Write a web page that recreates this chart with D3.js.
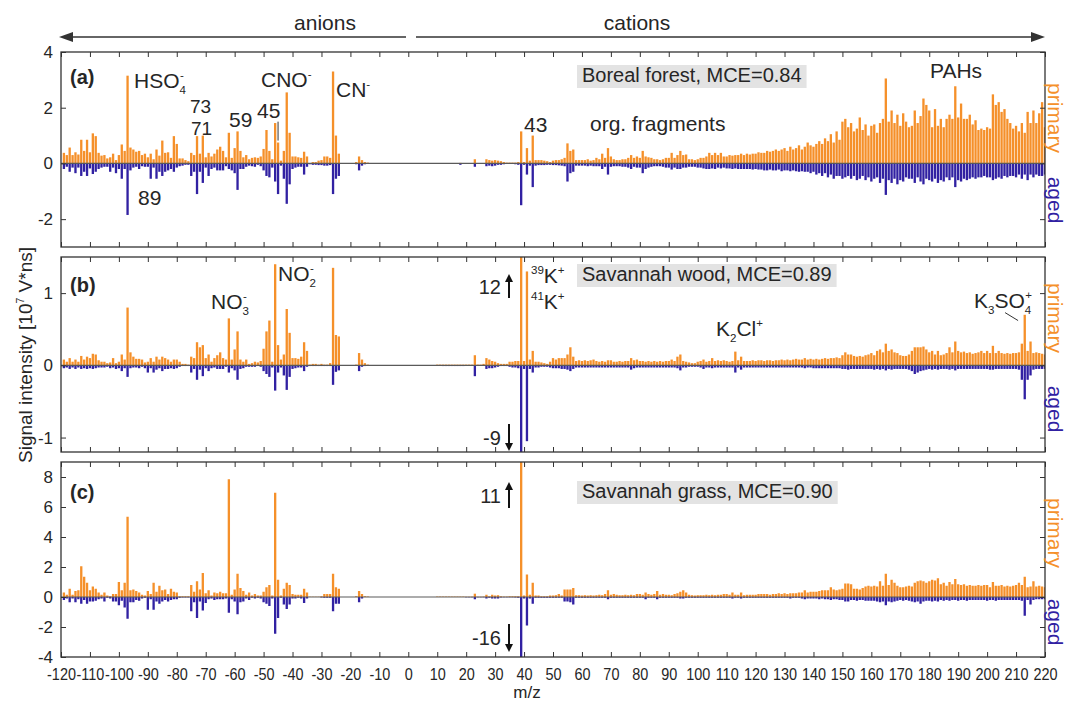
<!DOCTYPE html>
<meta charset="utf-8">
<html lang="en">
<head>
<title>Primary and aged spectra</title>
<script src="https://d3js.org/d3.v7.min.js"></script>
<style>
  html, body { margin: 0; padding: 0; background: #fff; }
  svg text { font-family: "Liberation Sans", Arial, Helvetica, sans-serif; fill: #262626; }
</style>
</head>
<body>
<div id="chart"></div>
<script>
// one bar per unit mass, m/z from -120 (anions) up to 220 (cations)
const mzStart = -120;
const mzEnd = 220;
const xTicks = d3.range(-120, 221, 10);

// (a) boreal forest, primary
const borealPrimary = [
  0, 0.38, 0.3, 0.57, 0.3, 0.4, 0.32, 0.85, 0.45, 0.85,      // -120
  0.4, 1.08, 0.98, 0.38, 0.28, 0.3, 0.18, 0.22, 0.35, 0.12,  // -110
  0.3, 0.68, 0.45, 3.15, 0.57, 0.5, 0.42, 0.45, 0.3, 0.35,   // -100
  0.22, 0.35, 0.15, 0.5, 0.28, 0.82, 0.38, 0.4, 0.2, 0.98,   // -90
  0.7, 0.18, 0.18, 0.12, 0.08, 0.38, 0.3, 0.98, 0.35, 1.0,   // -80
  0.22, 0.38, 0.25, 0.35, 0.5, 0.6, 0.45, 0.22, 1.1, 0.2,    // -70
  0.55, 1.15, 0.45, 0.22, 0.3, 0.15, 0.2, 0.22, 0.2, 0.25,   // -60
  0.52, 1.2, 0.45, 0.15, 1.45, 0.75, 0.1, 0.45, 2.55, 1.1,   // -50
  0.25, 0.25, 0.22, 0.2, 0.42, 0.25, 0, 0.05, 0.05, 0.1,     // -40
  0.12, 0.25, 0.25, 0.2, 3.3, 1.0, 0.35, 0, 0, 0,            // -30
  0, 0, 0.05, 0.25, 0.12, 0.05, 0.03, 0, 0, 0,               // -20
  0, 0, 0, 0, 0, 0, 0, 0, 0, 0,                              // -10
  0, 0, 0, 0, 0, 0, 0, 0, 0, 0,                              // 0
  0, 0, 0, 0, 0, 0, 0, 0, 0.02, 0,                           // 10
  0, 0, 0, 0.15, 0, 0, 0, 0.15, 0.12, 0.1,                   // 20
  0.12, 0.1, 0.08, 0.05, 0.03, 0.03, 0.03, 0.03, 0.05, 1.15, // 30
  0.05, 0.55, 0.1, 1.0, 0.12, 0.12, 0.12, 0.1, 0.08, 0.05,   // 40
  0.1, 0.12, 0.12, 0.15, 0.2, 0.72, 0.45, 0.5, 0.12, 0.12,   // 50
  0.12, 0.12, 0.15, 0.1, 0.12, 0.2, 0.15, 0.35, 0.2, 0.55,   // 60
  0.25, 0.15, 0.12, 0.12, 0.15, 0.15, 0.2, 0.3, 0.2, 0.25,   // 70
  0.2, 0.45, 0.25, 0.22, 0.2, 0.15, 0.15, 0.12, 0.15, 0.2,   // 80
  0.2, 0.38, 0.2, 0.3, 0.45, 0.3, 0.32, 0.15, 0.15, 0.12,    // 90
  0.15, 0.2, 0.2, 0.25, 0.38, 0.3, 0.38, 0.3, 0.38, 0.25,    // 100
  0.25, 0.3, 0.28, 0.3, 0.3, 0.35, 0.3, 0.35, 0.32, 0.35,    // 110
  0.35, 0.4, 0.38, 0.38, 0.45, 0.42, 0.45, 0.5, 0.45, 0.5,   // 120
  0.55, 0.45, 0.6, 0.5, 0.55, 0.65, 0.5, 0.6, 0.75, 0.65,    // 130
  0.6, 0.7, 0.8, 0.7, 0.9, 0.8, 1.05, 0.75, 1.15, 0.85,      // 140
  1.5, 1.6, 1.3, 1.45, 1.15, 1.25, 1.65, 1.2, 1.4, 1.0,      // 150
  1.35, 1.4, 1.1, 1.45, 1.6, 3.05, 1.5, 1.9, 1.45, 1.75,     // 160
  1.35, 1.8, 1.5, 1.3, 1.35, 1.9, 1.45, 1.7, 2.33, 2.1,      // 170
  1.9, 1.3, 1.95, 1.35, 1.6, 1.3, 1.6, 1.75, 1.6, 2.77,      // 180
  1.65, 2.15, 1.6, 1.6, 1.75, 1.4, 1.55, 1.2, 1.25, 1.2,     // 190
  1.3, 1.25, 2.48, 2.1, 2.2, 1.85, 1.95, 1.6, 1.45, 1.25,    // 200
  1.35, 1.15, 1.45, 1.1, 1.85, 1.45, 1.9, 1.45, 1.8, 2.2,    // 210
  1.3                                                         // 220
];

// (a) boreal forest, aged
const borealAged = [
  0, -0.2, -0.12, -0.3, -0.15, -0.35, -0.15, -0.45, -0.3, -0.45,
  -0.18, -0.38, -0.3, -0.2, -0.15, -0.12, -0.12, -0.3, -0.15, -0.35,
  -0.2, -0.55, -0.2, -1.85, -0.25, -0.15, -0.12, -0.2, -0.1, -0.12,
  -0.12, -0.55, -0.15, -0.55, -0.3, -0.45, -0.3, -0.25, -0.2, -0.3,
  -0.15, -0.1, -0.08, -0.05, -0.05, -0.45, -0.3, -1.1, -0.3, -0.7,
  -0.15, -0.45, -0.2, -0.15, -0.25, -0.25, -0.25, -0.1, -0.2, -0.25,
  -0.35, -0.95, -0.2, -0.2, -0.12, -0.08, -0.1, -0.12, -0.05, -0.1,
  -0.25, -0.45, -0.5, -0.15, -0.65, -1.1, -0.08, -0.55, -1.45, -0.75,
  -0.2, -0.15, -0.12, -0.12, -0.4, -0.12, -0.03, -0.05, -0.05, -0.06,
  -0.06, -0.08, -0.08, -0.06, -1.1, -0.55, -0.45, 0, 0, 0,
  0, 0, -0.03, -0.25, -0.08, -0.03, 0, 0, 0, 0,
  0, 0, 0, 0, 0, 0, 0, 0, 0, 0,
  0, 0, 0, 0, 0, 0, 0, 0, 0, 0,
  0, 0, 0, 0, 0, 0, 0, 0, -0.05, 0,
  0, 0, 0, -0.12, 0, 0, 0, -0.1, -0.08, -0.1,
  -0.08, -0.05, -0.05, -0.03, -0.02, -0.02, -0.02, -0.03, -0.05, -1.5,
  -0.05, -0.4, -0.08, -0.85, -0.08, -0.06, -0.06, -0.06, -0.05, -0.05,
  -0.06, -0.06, -0.07, -0.08, -0.1, -0.65, -0.35, -0.3, -0.08, -0.08,
  -0.08, -0.08, -0.1, -0.08, -0.1, -0.1, -0.1, -0.2, -0.12, -0.4,
  -0.12, -0.1, -0.1, -0.1, -0.12, -0.12, -0.15, -0.2, -0.12, -0.15,
  -0.15, -0.35, -0.2, -0.15, -0.12, -0.1, -0.1, -0.1, -0.12, -0.15,
  -0.15, -0.22, -0.15, -0.2, -0.2, -0.15, -0.15, -0.12, -0.12, -0.12,
  -0.15, -0.15, -0.18, -0.2, -0.2, -0.18, -0.2, -0.15, -0.18, -0.15,
  -0.18, -0.18, -0.2, -0.18, -0.2, -0.2, -0.2, -0.2, -0.2, -0.22,
  -0.2, -0.22, -0.22, -0.25, -0.25, -0.22, -0.25, -0.25, -0.22, -0.28,
  -0.25, -0.25, -0.28, -0.25, -0.28, -0.3, -0.28, -0.3, -0.3, -0.35,
  -0.3, -0.4, -0.35, -0.45, -0.35, -0.5, -0.4, -0.55, -0.45, -0.45,
  -0.55, -0.5, -0.45, -0.55, -0.45, -0.6, -0.55, -0.45, -0.6, -0.5,
  -0.65, -0.55, -0.5, -0.7, -0.55, -1.13, -0.6, -0.7, -0.55, -0.75,
  -0.6, -0.65, -0.5, -0.55, -0.55, -0.7, -0.5, -0.65, -0.75, -0.55,
  -0.6, -0.65, -0.55, -0.7, -0.6, -0.65, -0.5, -0.6, -0.5, -0.85,
  -0.6, -0.65, -0.55, -0.6, -0.55, -0.5, -0.55, -0.5, -0.5, -0.45,
  -0.5, -0.5, -0.6, -0.55, -0.5, -0.55, -0.45, -0.5, -0.45, -0.45,
  -0.5, -0.4, -0.55, -0.4, -0.6, -0.4, -0.5, -0.4, -0.45, -0.45,
  -0.4
];

// (b) savannah wood, primary (39K+ goes off scale at 12)
const woodPrimary = [
  0, 0.08, 0.05, 0.1, 0.05, 0.08, 0.05, 0.13, 0.08, 0.12,
  0.1, 0.16, 0.15, 0.07, 0.05, 0.05, 0.03, 0.04, 0.1, 0.03,
  0.05, 0.15, 0.08, 0.8, 0.18, 0.12, 0.09, 0.09, 0.08, 0.04,
  0.05, 0.1, 0.05, 0.12, 0.08, 0.12, 0.1, 0.08, 0.05, 0.08,
  0.08, 0.05, 0.02, 0.02, 0.01, 0.12, 0.1, 0.32, 0.25, 0.28,
  0.1, 0.15, 0.05, 0.1, 0.14, 0.18, 0.1, 0.08, 0.65, 0.08,
  0.22, 0.47, 0.08, 0.05, 0.08, 0.02, 0.03, 0.05, 0.04, 0.06,
  0.23, 0.47, 0.62, 0.05, 1.4, 0.28, 0.08, 0.15, 0.78, 0.45,
  0.1, 0.1, 0.09, 0.12, 0.32, 0.2, 0.01, 0.02, 0.02, 0.01,
  0.02, 0.01, 0.01, 0.03, 1.35, 0.42, 0.4, 0, 0, 0,
  0, 0, 0.01, 0.17, 0.08, 0.03, 0.01, 0, 0, 0,
  0, 0, 0, 0, 0, 0, 0, 0, 0, 0,
  0, 0, 0, 0, 0, 0, 0, 0, 0, 0,
  0.01, 0.01, 0.01, 0.01, 0.01, 0.01, 0.01, 0.01, 0.01, 0.01,
  0.01, 0.01, 0.01, 0.14, 0.01, 0.01, 0.02, 0.1, 0.08, 0.06,
  0.05, 0.03, 0.02, 0.02, 0.02, 0.05, 0.05, 0.06, 0.06, 12,
  0.06, 1.3, 0.08, 0.2, 0.05, 0.05, 0.04, 0.03, 0.02, 0.05,
  0.1, 0.08, 0.1, 0.1, 0.1, 0.15, 0.25, 0.12, 0.06, 0.07,
  0.06, 0.07, 0.06, 0.07, 0.08, 0.06, 0.05, 0.06, 0.05, 0.07,
  0.07, 0.05, 0.05, 0.06, 0.05, 0.06, 0.06, 0.1, 0.07, 0.08,
  0.06, 0.06, 0.05, 0.06, 0.05, 0.06, 0.05, 0.06, 0.05, 0.06,
  0.06, 0.08, 0.06, 0.12, 0.15, 0.06, 0.05, 0.04, 0.03, 0.03,
  0.05, 0.06, 0.08, 0.05, 0.06, 0.1, 0.06, 0.07, 0.06, 0.07,
  0.06, 0.05, 0.06, 0.19, 0.07, 0.12, 0.06, 0.06, 0.06, 0.07,
  0.06, 0.07, 0.07, 0.06, 0.07, 0.07, 0.06, 0.07, 0.07, 0.08,
  0.07, 0.08, 0.07, 0.08, 0.09, 0.08, 0.08, 0.1, 0.08, 0.09,
  0.08, 0.09, 0.08, 0.09, 0.1, 0.09, 0.1, 0.1, 0.11, 0.1,
  0.14, 0.18, 0.15, 0.15, 0.13, 0.12, 0.13, 0.12, 0.14, 0.15,
  0.17, 0.14, 0.2, 0.22, 0.18, 0.3, 0.2, 0.22, 0.18, 0.17,
  0.14, 0.13, 0.13, 0.15, 0.2, 0.25, 0.25, 0.25, 0.26, 0.22,
  0.18, 0.2, 0.15, 0.2, 0.14, 0.15, 0.17, 0.25, 0.18, 0.33,
  0.2, 0.18, 0.19, 0.17, 0.18, 0.16, 0.17, 0.18, 0.2, 0.17,
  0.2, 0.17, 0.27, 0.17, 0.2, 0.17, 0.16, 0.17, 0.16, 0.17,
  0.17, 0.18, 0.3, 0.7, 0.2, 0.33, 0.17, 0.18, 0.17, 0.16,
  0.15
];

// (b) savannah wood, aged (39K+ goes off scale at -9)
const woodAged = [
  0, -0.04, -0.03, -0.05, -0.03, -0.05, -0.03, -0.05, -0.04, -0.05,
  -0.04, -0.05, -0.04, -0.03, -0.03, -0.03, -0.02, -0.04, -0.03, -0.05,
  -0.04, -0.08, -0.04, -0.16, -0.04, -0.03, -0.03, -0.04, -0.02, -0.04,
  -0.1, -0.04, -0.1, -0.06, -0.04, -0.08, -0.05, -0.05, -0.04, -0.05,
  -0.04, -0.02, -0.01, -0.01, -0.01, -0.1, -0.05, -0.2, -0.06, -0.15,
  -0.04, -0.08, -0.04, -0.03, -0.05, -0.05, -0.05, -0.02, -0.1, -0.04,
  -0.07, -0.2, -0.05, -0.04, -0.02, -0.02, -0.02, -0.02, -0.01, -0.02,
  -0.08, -0.12, -0.16, -0.03, -0.35, -0.1, -0.03, -0.14, -0.34, -0.16,
  -0.05, -0.04, -0.03, -0.03, -0.08, -0.02, -0.01, -0.01, -0.01, -0.01,
  -0.01, -0.01, -0.01, -0.01, -0.27, -0.09, -0.07, 0, 0, 0,
  0, 0, 0, -0.08, -0.02, -0.01, 0, 0, 0, 0,
  0, 0, 0, 0, 0, 0, 0, 0, 0, 0,
  0, 0, 0, 0, 0, 0, 0, 0, 0, 0,
  0, 0, -0.01, -0.01, -0.01, -0.01, -0.01, -0.01, -0.01, -0.01,
  0, 0, 0, -0.15, 0, 0, 0, -0.05, -0.04, -0.04,
  -0.03, -0.02, -0.01, -0.01, -0.01, -0.02, -0.03, -0.03, -0.04, -9,
  -0.05, -1.05, -0.05, -0.1, -0.03, -0.03, -0.02, -0.02, -0.02, -0.03,
  -0.04, -0.04, -0.04, -0.05, -0.05, -0.06, -0.08, -0.05, -0.03, -0.03,
  -0.03, -0.03, -0.03, -0.03, -0.03, -0.03, -0.03, -0.03, -0.03, -0.03,
  -0.03, -0.03, -0.03, -0.03, -0.03, -0.03, -0.03, -0.06, -0.04, -0.03,
  -0.03, -0.03, -0.03, -0.03, -0.03, -0.03, -0.03, -0.03, -0.03, -0.03,
  -0.03, -0.03, -0.03, -0.04, -0.07, -0.03, -0.03, -0.02, -0.02, -0.02,
  -0.02, -0.03, -0.05, -0.03, -0.03, -0.04, -0.03, -0.03, -0.03, -0.03,
  -0.03, -0.03, -0.03, -0.1, -0.03, -0.06, -0.03, -0.03, -0.03, -0.03,
  -0.03, -0.03, -0.03, -0.03, -0.03, -0.03, -0.03, -0.03, -0.03, -0.03,
  -0.03, -0.03, -0.03, -0.03, -0.03, -0.03, -0.03, -0.04, -0.03, -0.03,
  -0.04, -0.04, -0.04, -0.04, -0.04, -0.04, -0.04, -0.04, -0.04, -0.04,
  -0.05, -0.05, -0.06, -0.05, -0.05, -0.05, -0.05, -0.05, -0.05, -0.05,
  -0.05, -0.06, -0.05, -0.06, -0.05, -0.07, -0.05, -0.06, -0.05, -0.05,
  -0.05, -0.05, -0.05, -0.06, -0.08, -0.12, -0.1, -0.08, -0.07, -0.06,
  -0.05, -0.06, -0.05, -0.06, -0.05, -0.05, -0.05, -0.06, -0.05, -0.07,
  -0.05, -0.05, -0.05, -0.05, -0.05, -0.05, -0.05, -0.05, -0.05, -0.05,
  -0.05, -0.06, -0.06, -0.05, -0.05, -0.05, -0.05, -0.05, -0.05, -0.05,
  -0.05, -0.06, -0.2, -0.47, -0.2, -0.14, -0.06, -0.05, -0.05, -0.05,
  -0.05
];

// (c) savannah grass, primary (39K+ goes off scale at 11)
const grassPrimary = [
  0, 0.3, 0.15, 0.55, 0.15, 0.4, 0.45, 2.05, 1.35, 0.95,
  0.45, 0.7, 0.55, 0.3, 0.15, 0.3, 0.1, 0.05, 0.2, 0.2,
  1.0, 0.45, 0.95, 5.35, 0.45, 0.5, 0.4, 0.3, 0.15, 0.1,
  0.4, 0.2, 0.95, 0.35, 0.75, 0.45, 0.5, 0.2, 0.55, 0.35,
  0.3, 0.05, 0.05, 0.05, 0.05, 0.8, 0.35, 1.05, 0.5, 1.6,
  0.25, 0.45, 0.1, 0.3, 0.25, 0.35, 0.25, 0.25, 7.85, 0.15,
  0.5, 1.55, 0.6, 0.4, 0.15, 0.3, 0.1, 0.2, 0.1, 0.1,
  0.35, 0.65, 0.8, 0.1, 6.95, 1.15, 0.1, 0.55, 0.95, 0.8,
  0.2, 0.15, 0.15, 0.15, 0.55, 0.3, 0.02, 0.02, 0.02, 0.02,
  0.05, 0.2, 0.2, 0.2, 1.55, 0.65, 0.55, 0, 0, 0,
  0, 0, 0.05, 0.4, 0.2, 0.05, 0.03, 0, 0, 0,
  0, 0, 0, 0, 0, 0, 0, 0, 0, 0,
  0, 0, 0, 0, 0, 0, 0, 0, 0, 0,
  0.03, 0.03, 0.03, 0.03, 0.03, 0.03, 0.03, 0.03, 0.03, 0.03,
  0.02, 0.02, 0.02, 0.22, 0.02, 0.02, 0.03, 0.15, 0.05, 0.15,
  0.1, 0.12, 0.05, 0.03, 0.03, 0.05, 0.05, 0.05, 0.05, 11,
  0.1, 1.5, 0.15, 0.95, 0.1, 0.1, 0.05, 0.05, 0.05, 0.1,
  0.1, 0.12, 0.2, 0.1, 0.5, 0.5, 0.5, 0.6, 0.12, 0.12,
  0.1, 0.12, 0.1, 0.12, 0.1, 0.12, 0.15, 0.12, 0.2, 0.45,
  0.15, 0.2, 0.15, 0.12, 0.12, 0.15, 0.12, 0.15, 0.12, 0.2,
  0.2, 0.15, 0.3, 0.2, 0.15, 0.2, 0.4, 0.15, 0.2, 0.15,
  0.15, 0.12, 0.2, 0.25, 0.35, 0.45, 0.3, 0.15, 0.12, 0.1,
  0.12, 0.12, 0.12, 0.15, 0.12, 0.15, 0.12, 0.15, 0.15, 0.2,
  0.2, 0.15, 0.3, 0.15, 0.15, 0.3, 0.12, 0.15, 0.15, 0.15,
  0.15, 0.2, 0.2, 0.2, 0.2, 0.15, 0.2, 0.2, 0.25, 0.2,
  0.25, 0.2, 0.25, 0.25, 0.25, 0.3, 0.3, 0.45, 0.3, 0.35,
  0.35, 0.35, 0.4, 0.45, 0.45, 0.45, 0.65, 0.5, 0.45, 0.5,
  0.55, 0.9, 0.9, 0.85, 0.55, 0.55, 0.5, 0.6, 0.7, 0.75,
  0.7, 0.75, 0.7, 1.05, 0.75, 1.55, 0.8, 1.15, 0.95, 0.75,
  0.65, 0.65, 0.7, 0.75, 0.7, 0.95, 1.05, 1.1, 1.05, 0.95,
  1.05, 1.15, 1.1, 1.25, 0.85, 0.95, 0.75, 1.0, 0.85, 1.2,
  0.85, 0.8, 0.85, 0.75, 0.8, 0.75, 0.75, 0.8, 0.75, 0.8,
  0.8, 0.65, 1.0, 0.75, 0.75, 0.8, 0.7, 0.75, 0.7, 0.75,
  0.8, 0.95, 0.8, 1.35, 0.65, 0.7, 1.05, 0.7, 0.75, 0.7,
  0.65
];

// (c) savannah grass, aged (39K+ goes off scale at -16)
const grassAged = [
  0, -0.2, -0.1, -0.35, -0.1, -0.35, -0.15, -0.45, -0.2, -0.45,
  -0.3, -0.3, -0.25, -0.15, -0.1, -0.3, -0.05, -0.1, -0.3, -0.3,
  -0.55, -0.25, -0.7, -1.45, -0.35, -0.35, -0.2, -0.25, -0.1, -0.05,
  -0.85, -0.15, -0.85, -0.3, -0.45, -0.3, -0.2, -0.3, -0.2, -0.15,
  -0.15, -0.05, -0.03, -0.03, -0.03, -0.95, -0.35, -1.4, -0.3, -0.9,
  -0.4, -0.15, -0.1, -0.2, -0.15, -0.15, -0.15, -0.1, -1.05, -0.15,
  -0.3, -1.15, -0.35, -0.3, -0.1, -0.2, -0.05, -0.1, -0.05, -0.1,
  -0.35, -0.45, -0.6, -0.1, -2.45, -1.4, -0.05, -0.5, -0.8, -0.5,
  -0.1, -0.1, -0.05, -0.1, -0.4, -0.1, 0, 0, 0, 0,
  -0.03, -0.05, -0.05, -0.05, -0.95, -0.45, -0.45, 0, 0, 0,
  0, 0, 0, -0.35, -0.1, 0, 0, 0, 0, 0,
  0, 0, 0, 0, 0, 0, 0, 0, 0, 0,
  0, 0, 0, 0, 0, 0, 0, 0, 0, 0,
  0, 0, 0, 0, 0, 0, 0, 0, 0, 0,
  -0.02, -0.02, -0.02, -0.15, -0.02, -0.02, -0.02, -0.1, -0.05, -0.1,
  -0.1, -0.1, -0.03, -0.02, -0.02, -0.02, -0.02, -0.03, -0.05, -16,
  -0.1, -1.9, -0.1, -0.45, -0.05, -0.05, -0.05, -0.05, -0.05, -0.05,
  -0.05, -0.05, -0.05, -0.05, -0.3, -0.3, -0.35, -0.5, -0.05, -0.05,
  -0.05, -0.05, -0.05, -0.05, -0.05, -0.05, -0.05, -0.05, -0.05, -0.15,
  -0.05, -0.05, -0.05, -0.05, -0.05, -0.05, -0.05, -0.05, -0.05, -0.05,
  -0.05, -0.05, -0.15, -0.05, -0.05, -0.05, -0.15, -0.05, -0.05, -0.05,
  -0.05, -0.05, -0.05, -0.05, -0.1, -0.1, -0.05, -0.05, -0.05, -0.05,
  -0.05, -0.05, -0.05, -0.05, -0.05, -0.05, -0.05, -0.05, -0.05, -0.05,
  -0.05, -0.05, -0.1, -0.05, -0.05, -0.1, -0.05, -0.05, -0.05, -0.05,
  -0.05, -0.05, -0.05, -0.05, -0.05, -0.05, -0.05, -0.05, -0.05, -0.05,
  -0.05, -0.05, -0.1, -0.05, -0.05, -0.05, -0.1, -0.15, -0.1, -0.1,
  -0.1, -0.1, -0.15, -0.1, -0.15, -0.15, -0.2, -0.15, -0.15, -0.2,
  -0.2, -0.3, -0.3, -0.2, -0.2, -0.25, -0.2, -0.2, -0.25, -0.25,
  -0.25, -0.25, -0.3, -0.35, -0.3, -0.55, -0.3, -0.35, -0.3, -0.25,
  -0.2, -0.25, -0.2, -0.25, -0.3, -0.35, -0.3, -0.45, -0.3, -0.25,
  -0.25, -0.3, -0.25, -0.3, -0.2, -0.25, -0.2, -0.25, -0.2, -0.2,
  -0.25, -0.2, -0.2, -0.25, -0.2, -0.2, -0.2, -0.2, -0.2, -0.2,
  -0.25, -0.2, -0.2, -0.25, -0.2, -0.2, -0.2, -0.2, -0.2, -0.2,
  -0.2, -0.2, -0.25, -1.25, -0.2, -0.5, -0.2, -0.15, -0.15, -0.15,
  -0.15
];

const ORANGE = "#F5902A";
const BLUE = "#3121A2";
const INK = "#262626";

const width = 1068, height = 703;
const plotLeft = 61, plotRight = 1045;

const svg = d3.select("#chart").append("svg")
    .attr("width", width)
    .attr("height", height);

const x = d3.scaleLinear().domain([mzStart, mzEnd]).range([plotLeft, plotRight]);
const barW = (x(1) - x(0)) * 0.8;
const mzList = d3.range(mzStart, mzEnd + 1);

const panels = [
  { top: 52, bottom: 247, domain: [-3, 4], ticks: [-2, 0, 2, 4], primary: borealPrimary, aged: borealAged,
    primaryMid: 118, agedMid: 200 },
  { top: 257, bottom: 452, domain: [-1.2, 1.5], ticks: [-1, 0, 1], primary: woodPrimary, aged: woodAged,
    primaryMid: 318, agedMid: 409 },
  { top: 462, bottom: 657, domain: [-4, 9], ticks: [-4, -2, 0, 2, 4, 6, 8], primary: grassPrimary, aged: grassAged,
    primaryMid: 533, agedMid: 622 }
];

// text with sub/superscripts: parts = [[string, "sub"|"sup"|"", dx]]
function richText(g, px, py, parts, size, opts) {
  opts = opts || {};
  const t = g.append("text").attr("x", px).attr("y", py)
      .attr("font-size", size)
      .attr("text-anchor", opts.anchor || "start")
      .attr("font-weight", opts.bold ? "bold" : null);
  let shift = 0;
  parts.forEach(function(p) {
    const kind = p[1] || "";
    const target = kind === "sub" ? size * 0.28 : kind === "sup" ? -size * 0.42 : 0;
    const s = t.append("tspan").text(p[0]).attr("dy", target - shift);
    if (kind) s.attr("font-size", size * 0.55);
    if (p[2]) s.attr("dx", p[2]);
    shift = target;
  });
  return t;
}

function labelBox(g, px, py, str) {
  const box = g.append("rect").attr("fill", "#E3E3E3");
  const t = g.append("text").attr("x", px).attr("y", py).attr("font-size", 20).text(str);
  const bb = t.node().getBBox();
  box.attr("x", bb.x - 5).attr("y", bb.y + 1).attr("width", bb.width + 10).attr("height", bb.height + 1);
}

function vArrow(g, px, y1, y2) {
  const dir = y2 < y1 ? -1 : 1;
  g.append("line").attr("x1", px).attr("x2", px).attr("y1", y1).attr("y2", y2 - dir * 6)
      .attr("stroke", "#111").attr("stroke-width", 2);
  g.append("path")
      .attr("d", `M${px},${y2} L${px - 4},${y2 - dir * 8} L${px + 4},${y2 - dir * 8} Z`)
      .attr("fill", "#111");
}

panels.forEach(function(p, i) {
  const y = d3.scaleLinear().domain(p.domain).range([p.bottom, p.top]);
  p.y = y;
  const g = svg.append("g");

  svg.append("clipPath").attr("id", "clip" + i)
    .append("rect")
      .attr("x", plotLeft).attr("y", p.top)
      .attr("width", plotRight - plotLeft).attr("height", p.bottom - p.top);

  const bars = g.append("g").attr("clip-path", `url(#clip${i})`);

  [[p.primary, ORANGE], [p.aged, BLUE]].forEach(function(s) {
    const rows = mzList.map((m, k) => ({ m: m, v: s[0][k] })).filter(d => d.v);
    bars.append("g").selectAll("rect")
      .data(rows)
      .join("rect")
        .attr("x", d => x(d.m) - barW / 2)
        .attr("width", barW)
        .attr("y", d => Math.min(y(d.v), y(0)))
        .attr("height", d => Math.abs(y(d.v) - y(0)))
        .attr("fill", s[1]);
  });

  // zero line
  g.append("line")
      .attr("x1", plotLeft).attr("x2", plotRight)
      .attr("y1", y(0)).attr("y2", y(0))
      .attr("stroke", "#5a5a5a").attr("stroke-width", 1.2);

  const styleAxis = a => {
    a.select(".domain").remove();
    a.selectAll(".tick line").attr("stroke", "#333").attr("stroke-width", 1);
    a.selectAll(".tick text").attr("fill", INK).attr("font-size", 17)
      .attr("font-family", '"Liberation Sans", Arial, sans-serif');
  };

  g.append("g").attr("transform", `translate(0,${p.bottom})`)
    .call(d3.axisBottom(x).tickValues(xTicks).tickSizeInner(-5).tickSizeOuter(0).tickPadding(11)
      .tickFormat(i === 2 ? d => String(d) : ""))
    .call(styleAxis)
    .call(a => a.selectAll(".tick text").attr("transform", "scale(0.85,1)"));

  g.append("g").attr("transform", `translate(0,${p.top})`)
    .call(d3.axisTop(x).tickValues(xTicks).tickSizeInner(-5).tickSizeOuter(0).tickFormat(""))
    .call(styleAxis);

  g.append("g").attr("transform", `translate(${plotLeft},0)`)
    .call(d3.axisLeft(y).tickValues(p.ticks).tickSizeInner(-5).tickSizeOuter(0).tickPadding(8)
      .tickFormat(d => String(d)))
    .call(styleAxis);

  g.append("g").attr("transform", `translate(${plotRight},0)`)
    .call(d3.axisRight(y).tickValues(p.ticks).tickSizeInner(-5).tickSizeOuter(0).tickFormat(""))
    .call(styleAxis);

  g.append("rect")
      .attr("x", plotLeft).attr("y", p.top)
      .attr("width", plotRight - plotLeft).attr("height", p.bottom - p.top)
      .attr("fill", "none").attr("stroke", "#333").attr("stroke-width", 1.3);

  // right side labels
  g.append("text")
      .attr("transform", `translate(1048,${p.primaryMid}) rotate(90)`)
      .attr("text-anchor", "middle").attr("font-size", 21)
      .style("fill", ORANGE).text("primary");
  g.append("text")
      .attr("transform", `translate(1048,${p.agedMid}) rotate(90)`)
      .attr("text-anchor", "middle").attr("font-size", 21)
      .style("fill", BLUE).text("aged");
});

const ya = panels[0].y, yb = panels[1].y, yc = panels[2].y;
const ann = svg.append("g");

// panel (a)
richText(ann, 70, 84, [["(a)"]], 20, { bold: true });
richText(ann, 134, 88, [["HSO"], ["4", "sub"], ["-", "sup", -6]], 21);
richText(ann, 190, 113, [["73"]], 19);
richText(ann, 191, 135, [["71"]], 19);
richText(ann, 229, 127, [["59"]], 21);
richText(ann, 257, 118, [["45"]], 21);
ann.append("line").attr("x1", x(-45)).attr("x2", x(-45)).attr("y1", ya(1.5)).attr("y2", ya(0.82))
    .attr("stroke", "#333").attr("stroke-width", 1);
richText(ann, 261, 87, [["CNO"], ["-", "sup"]], 21);
richText(ann, 336, 97, [["CN"], ["-", "sup"]], 21);
richText(ann, 138, 205, [["89"]], 21);
richText(ann, 524, 132, [["43"]], 21);
richText(ann, 590, 131, [["org. fragments"]], 21);
labelBox(ann, 582, 82, "Boreal forest, MCE=0.84");
richText(ann, 930, 78, [["PAHs"]], 21);

// panel (b)
richText(ann, 70, 292, [["(b)"]], 20, { bold: true });
richText(ann, 211, 309, [["NO"], ["3", "sub"], ["-", "sup", -6]], 21);
richText(ann, 278, 281, [["NO"], ["2", "sub"], ["-", "sup", -6]], 21);
richText(ann, x(32), 294, [["12"]], 20, { anchor: "end" });
vArrow(ann, x(34.8), 298, 274);
richText(ann, 531, 283, [["39", "sup"], ["K"], ["+", "sup"]], 21);
richText(ann, 531, 309, [["41", "sup"], ["K"], ["+", "sup"]], 21);
labelBox(ann, 582, 281, "Savannah wood, MCE=0.89");
richText(ann, 716, 336, [["K"], ["2", "sub"], ["Cl"], ["+", "sup"]], 21);
richText(ann, 974, 308, [["K"], ["3", "sub"], ["SO"], ["4", "sub"], ["+", "sup", -6]], 21);
ann.append("line").attr("x1", x(206.2)).attr("x2", x(210.7)).attr("y1", yb(0.73)).attr("y2", yb(0.62))
    .attr("stroke", "#333").attr("stroke-width", 1);
richText(ann, x(32), 445, [["-9"]], 20, { anchor: "end" });
vArrow(ann, x(34.8), 424, 451);

// panel (c)
richText(ann, 70, 499, [["(c)"]], 20, { bold: true });
richText(ann, x(32), 503, [["11"]], 20, { anchor: "end" });
vArrow(ann, x(34.8), 508, 482);
richText(ann, x(32), 645, [["-16"]], 20, { anchor: "end" });
vArrow(ann, x(34.8), 624, 652);
labelBox(ann, 582, 498, "Savannah grass, MCE=0.90");

// axis titles
ann.append("text").attr("x", 527).attr("y", 698).attr("text-anchor", "middle")
    .attr("font-size", 17).text("m/z");
const yTitle = richText(ann, 0, 0, [["Signal intensity [10"], ["7", "sup"], [" V*ns]", "", 0]], 19, { anchor: "middle" });
yTitle.attr("transform", "translate(32,355) rotate(-90)");

// anions / cations arrows
const header = svg.append("g");
header.append("line").attr("x1", 70).attr("x2", 406).attr("y1", 37).attr("y2", 37)
    .attr("stroke", "#333").attr("stroke-width", 1.5);
header.append("path").attr("d", "M59,37 L73,32 L73,42 Z").attr("fill", "#333");
header.append("line").attr("x1", 416).attr("x2", 1033).attr("y1", 37).attr("y2", 37)
    .attr("stroke", "#333").attr("stroke-width", 1.5);
header.append("path").attr("d", "M1045,37 L1031,32 L1031,42 Z").attr("fill", "#333");
header.append("text").attr("x", 325).attr("y", 30).attr("text-anchor", "middle").attr("font-size", 21).text("anions");
header.append("text").attr("x", 637).attr("y", 30).attr("text-anchor", "middle").attr("font-size", 21).text("cations");
</script>
</body>
</html>
